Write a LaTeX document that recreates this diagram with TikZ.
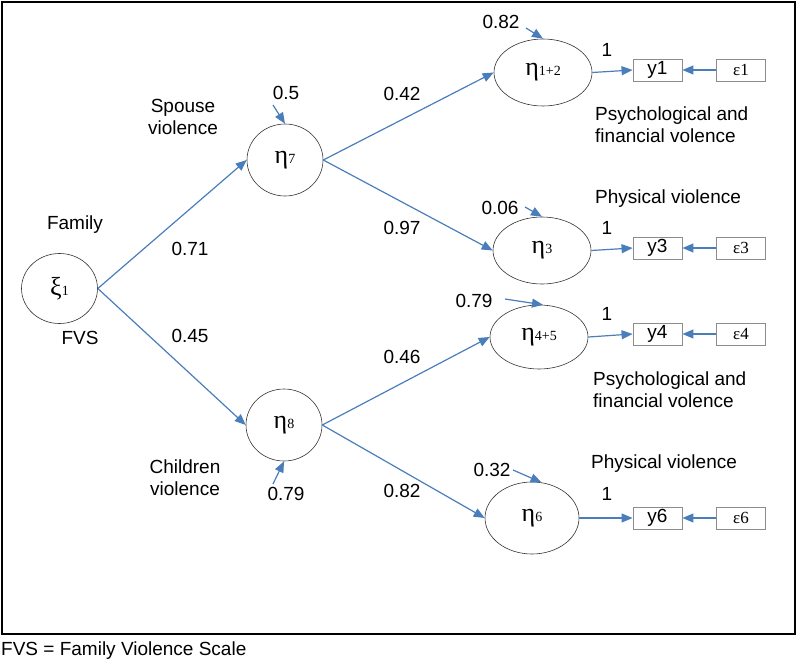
\documentclass[tikz,border=0pt]{standalone}
\usepackage{fontspec}
\setmainfont{Liberation Sans}
\newfontfamily\grk{Liberation Serif}
\usetikzlibrary{shapes.geometric,arrows.meta}
\definecolor{arrblue}{HTML}{4A7EBB}
\definecolor{boxgray}{HTML}{8C8C8C}
\newcommand\gsym[2]{{\grk\fontsize{26}{26}\selectfont #1}{\grk\fontsize{14}{14}\selectfont #2}}
\begin{document}
\begin{tikzpicture}[x=1pt,y=-1pt,
  lat/.style={ellipse,draw=black!80,line width=0.6pt,inner sep=0pt},
  obs/.style={rectangle,draw=boxgray,line width=0.9pt,minimum width=49pt,minimum height=22pt,inner sep=0pt},
  path/.style={draw=arrblue,line width=1.2pt,-{Triangle[length=11pt,width=9pt]}},
  lbl/.style={inner sep=0pt,font=\fontsize{19}{22}\selectfont},
  blk/.style={inner sep=0pt,font=\fontsize{19}{22.5}\selectfont,align=left,anchor=west}]
\useasboundingbox (0,0) rectangle (797,661);
\draw[line width=2.8pt] (2,2) rectangle (795,634);
% latent nodes
\node[lat,minimum width=76pt,minimum height=70pt] (xi) at (59.5,288.5) {\gsym{ξ}{1}};
\node[lat,minimum width=76pt,minimum height=72pt] (e7) at (285,160) {\gsym{η}{7}};
\node[lat,minimum width=76pt,minimum height=72pt] (e8) at (284,425) {\gsym{η}{8}};
\node[lat,minimum width=98pt,minimum height=67pt] (e12) at (543,72.5) {\gsym{η}{1+2}};
\node[lat,minimum width=98pt,minimum height=67pt] (e3) at (542,250.5) {\gsym{η}{3}};
\node[lat,minimum width=98pt,minimum height=64pt] (e45) at (539,337) {\gsym{η}{4+5}};
\node[lat,minimum width=94pt,minimum height=72pt] (e6) at (532,518) {\gsym{η}{6}};
% observed
\node[obs,font=\fontsize{19}{19}\selectfont] (y1) at (657.5,70) {y1};
\node[obs,font=\fontsize{19}{19}\selectfont] (y3) at (657.5,248) {y3};
\node[obs,font=\fontsize{19}{19}\selectfont] (y4) at (657.5,334) {y4};
\node[obs,font=\fontsize{19}{19}\selectfont] (y6) at (657.5,518) {y6};
\node[obs,font=\grk\fontsize{17}{17}\selectfont] (d1) at (741,70) {ε1};
\node[obs,font=\grk\fontsize{17}{17}\selectfont] (d3) at (741,248) {ε3};
\node[obs,font=\grk\fontsize{17}{17}\selectfont] (d4) at (741,334) {ε4};
\node[obs,font=\grk\fontsize{17}{17}\selectfont] (d6) at (741,518) {ε6};
% structural paths
\draw[path] (xi.east) -- (e7.west);
\draw[path] (xi.east) -- (e8.west);
\draw[path] (e7.east) -- (e12.west);
\draw[path] (e7.east) -- (e3.west);
\draw[path] (e8.east) -- (e45.west);
\draw[path] (e8.east) -- (e6.west);
% measurement paths
\draw[path] (e12.east) -- (y1.west);
\draw[path] (e3.east) -- (y3.west);
\draw[path] (e45.east) -- (y4.west);
\draw[path] (e6.east) -- (y6.west);
\draw[path] (d1.west) -- (y1.east);
\draw[path] (d3.west) -- (y3.east);
\draw[path] (d4.west) -- (y4.east);
\draw[path] (d6.west) -- (y6.east);
% disturbance arrows
\coordinate (z7) at (273,105);
\coordinate (z8) at (273,484);
\coordinate (z12) at (526,28);
\coordinate (z3) at (525,207);
\coordinate (z45) at (505,299);
\coordinate (z6) at (513,470);
\draw[path] (z7) -- (e7.north);
\draw[path] (z8) -- (e8.south);
\draw[path] (z12) -- (e12.north);
\draw[path] (z3) -- (e3.north);
\draw[path] (z45) -- (e45.83);
\draw[path] (z6) -- (e6.75);
% labels
\node[lbl] (l05) at (286,93) {0.5};
\node[lbl,align=center] (lsp) at (183,117) {Spouse\\violence};
\node[lbl] (lfam) at (75,225) {Family};
\node[lbl] (l071) at (190,249) {0.71};
\node[lbl] (l045) at (190,336) {0.45};
\node[lbl] (lfvs) at (80,338) {FVS};
\node[lbl] (l042) at (402,94) {0.42};
\node[lbl] (l097) at (402,228) {0.97};
\node[lbl] (l046) at (402,357) {0.46};
\node[lbl] (l082b) at (402,491) {0.82};
\node[lbl,align=center] (lch) at (185,477.5) {Children\\violence};
\node[lbl] (l079b) at (286,494) {0.79};
\node[lbl] (l082) at (501,22) {0.82};
\node[lbl] (l006) at (500,208) {0.06};
\node[lbl] (l079) at (474,301) {0.79};
\node[lbl] (l032) at (492,470) {0.32};
\node[lbl] (o1) at (607,50) {1};
\node[lbl] (o3) at (607,228) {1};
\node[lbl] (o4) at (607,314) {1};
\node[lbl] (o6) at (607,494) {1};
\node[blk] (lpf1) at (595,124.5) {Psychological and\\financial volence};
\node[blk] (lph1) at (595,199) {Physical violence};
\node[blk] (lpf2) at (593,389.5) {Psychological and\\financial volence};
\node[blk] (lph2) at (591,464) {Physical violence};
\node[inner sep=0pt,anchor=west,font=\fontsize{19}{22}\selectfont] (cap) at (1,651) {FVS = Family Violence Scale};
\end{tikzpicture}
\end{document}
